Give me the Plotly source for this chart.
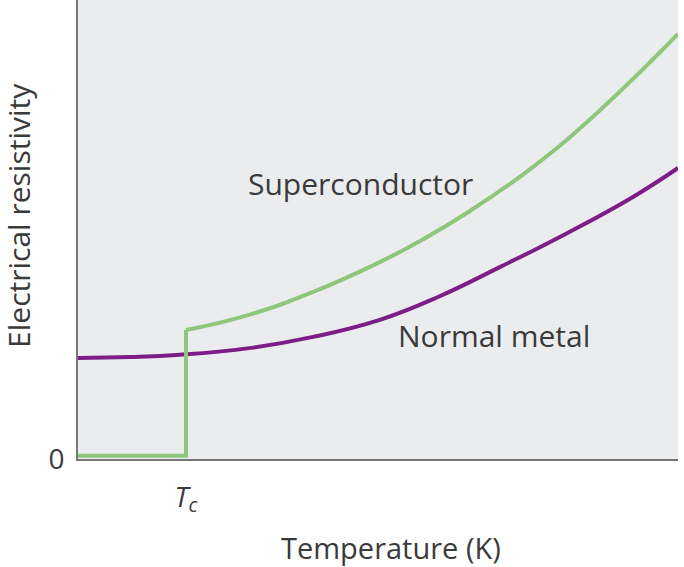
import plotly.graph_objects as go

# temperature in arbitrary units, resistivity in arbitrary units
T_C = 18.0

normal_temp = [0, 8.7, 17, 28.2, 39.2, 50.3, 60, 70.3, 81.5, 92.5, 100]
normal_rho = [22.0, 22.2, 22.7, 24.1, 26.6, 30.3, 35.3, 41.8, 49.2, 57.1, 63.4]

super_temp = [0, T_C, T_C, 28.2, 39.2, 50.3, 57, 64.8, 75.8, 87, 100]
super_rho = [0.7, 0.7, 28.1, 31.3, 36.4, 42.9, 47.5, 53.6, 63.6, 76.0, 92.6]

x_ticks = [T_C]
x_tick_labels = ["<i>T<sub>c</sub></i>"]
y_ticks = [0]
y_tick_labels = ["0"]

FONT = "Open Sans"
TEXT_COLOR = "#3a3a3a"
GREEN = "#8dc77b"
PURPLE = "#7d1e88"


def main():
    fig = go.Figure()

    fig.add_trace(
        go.Scatter(
            x=normal_temp,
            y=normal_rho,
            mode="lines",
            line=dict(color=PURPLE, width=4, shape="spline", smoothing=1.3),
            showlegend=False,
            hoverinfo="skip"
        )
    )

    # superconductor: sharp step at Tc, smooth curve above it
    fig.add_trace(
        go.Scatter(
            x=super_temp[:3],
            y=super_rho[:3],
            mode="lines",
            line=dict(color=GREEN, width=4, shape="linear"),
            showlegend=False,
            hoverinfo="skip"
        )
    )
    fig.add_trace(
        go.Scatter(
            x=super_temp[2:],
            y=super_rho[2:],
            mode="lines",
            line=dict(color=GREEN, width=4, shape="spline", smoothing=1.3),
            showlegend=False,
            hoverinfo="skip"
        )
    )

    # curve labels
    fig.add_annotation(x=47.0, y=60.1, text="Superconductor", showarrow=False,
                       font=dict(family=FONT, size=30, color=TEXT_COLOR))
    fig.add_annotation(x=69.3, y=26.8, text="Normal metal", showarrow=False,
                       font=dict(family=FONT, size=30, color=TEXT_COLOR))

    # axis titles
    fig.add_annotation(x=0.522, y=-0.192, xref="paper", yref="paper",
                       text="Temperature (K)", showarrow=False,
                       yanchor="middle",
                       font=dict(family=FONT, size=29, color=TEXT_COLOR))
    fig.add_annotation(x=-0.098, y=0.53, xref="paper", yref="paper",
                       text="Electrical resistivity", showarrow=False,
                       textangle=-90, xanchor="center",
                       font=dict(family=FONT, size=30, color=TEXT_COLOR))

    fig.update_xaxes(
        range=[0, 100],
        tickvals=x_ticks,
        ticktext=x_tick_labels,
        ticks="outside",
        ticklen=12,
        tickcolor="rgba(0,0,0,0)",
        tickfont=dict(family=FONT, size=28, color=TEXT_COLOR),
        showgrid=False,
        zeroline=False,
        showline=True,
        linecolor="#777777",
        linewidth=2,
        automargin=False,
        fixedrange=True
    )
    fig.update_yaxes(
        range=[0, 100],
        tickvals=y_ticks,
        ticktext=y_tick_labels,
        ticks="outside",
        ticklen=6,
        tickcolor="rgba(0,0,0,0)",
        tickfont=dict(family=FONT, size=28, color=TEXT_COLOR),
        showgrid=False,
        zeroline=False,
        showline=True,
        linecolor="#777777",
        linewidth=2,
        automargin=False,
        fixedrange=True
    )

    fig.update_layout(
        width=684,
        height=567,
        margin=dict(l=78, r=6, t=0, b=108),
        plot_bgcolor="#ebecee",
        paper_bgcolor="white",
        showlegend=False
    )

    # page body has a default 8px margin; drop it so the figure fills the window
    fig.write_html(
        "out.html",
        config={"displayModeBar": False},
        post_script="document.body.style.margin='0';document.body.style.overflow='hidden';"
    )


if __name__ == "__main__":
    main()
